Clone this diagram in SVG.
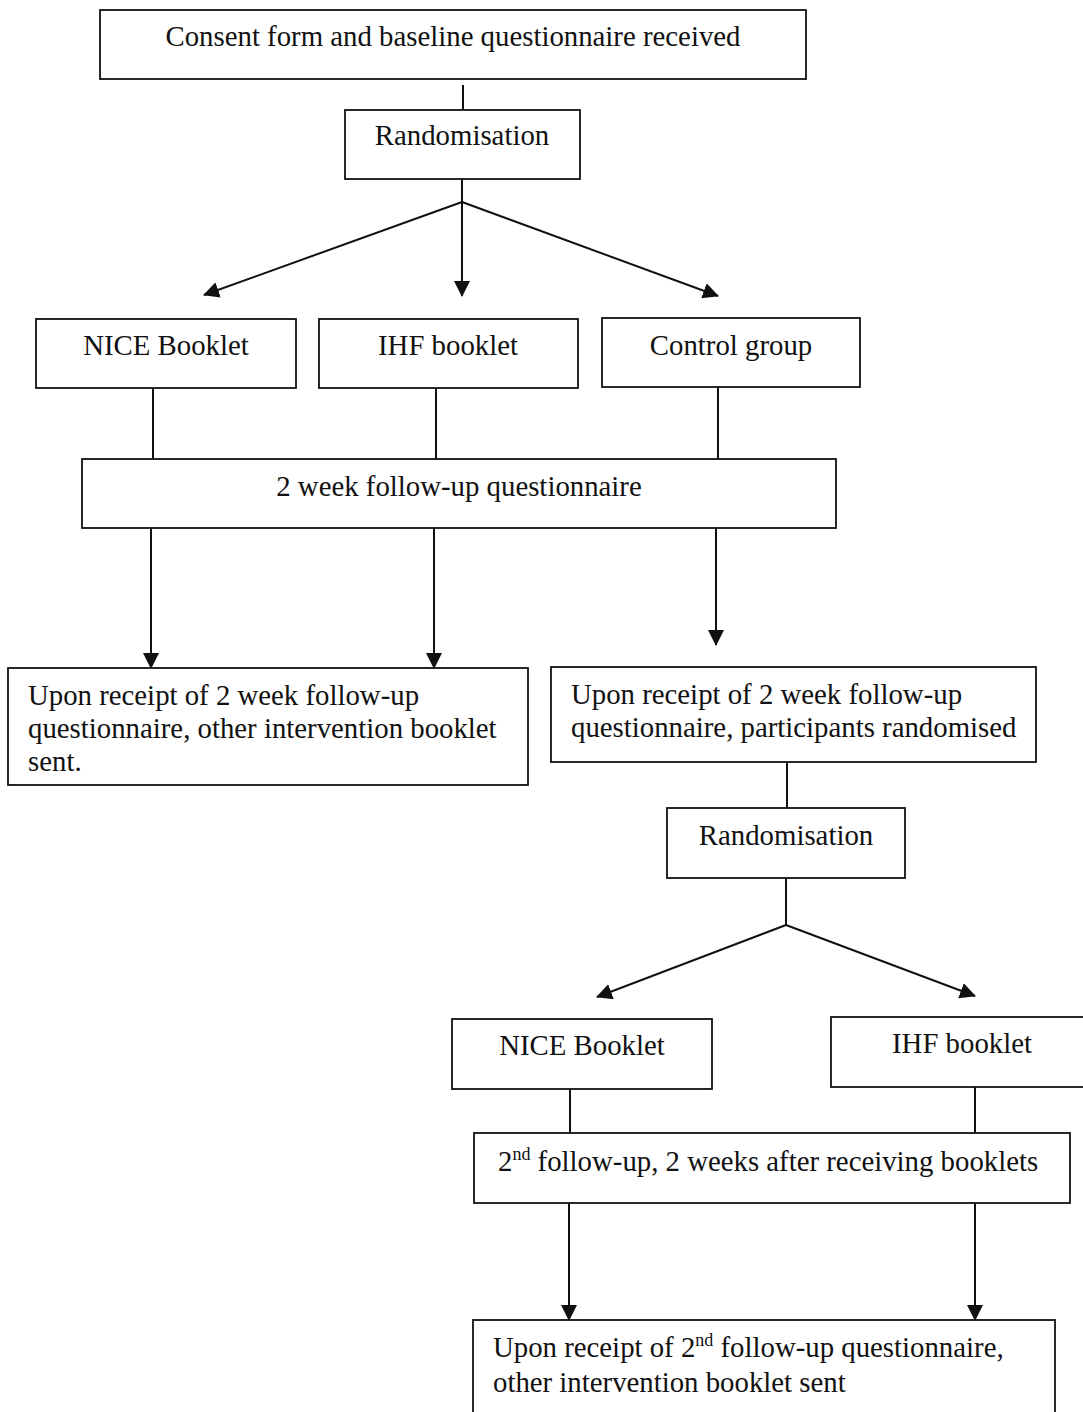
<svg xmlns="http://www.w3.org/2000/svg" width="1083" height="1412" viewBox="0 0 1083 1412">
<style>
.box{fill:#fff;stroke:#111;stroke-width:1.8}
.t{font-family:"Liberation Serif","Times New Roman",serif;font-size:28.8px;fill:#111}
.c{text-anchor:middle}
.sup{font-size:18px}
.ln{stroke:#111;stroke-width:2;fill:none}
.ar{stroke:#111;stroke-width:2;fill:none;marker-end:url(#ah)}
</style>
<defs>
<marker id="ah" markerUnits="userSpaceOnUse" markerWidth="16" markerHeight="16" viewBox="0 0 16 16" refX="15" refY="8" orient="auto">
<path d="M0,0 L16,8 L0,16 z" fill="#111"/>
</marker>
</defs>
<rect width="1083" height="1412" fill="#fff"/>
<g id="connectors">
<line class="ln" x1="463" y1="85" x2="463" y2="110"/>
<line class="ln" x1="462" y1="179" x2="462" y2="202"/>
<line class="ar" x1="462" y1="202" x2="204" y2="295"/>
<line class="ar" x1="462" y1="202" x2="462" y2="296"/>
<line class="ar" x1="462" y1="202" x2="718" y2="296"/>
<line class="ln" x1="153" y1="388" x2="153" y2="459"/>
<line class="ln" x1="436" y1="388" x2="436" y2="459"/>
<line class="ln" x1="718" y1="387" x2="718" y2="459"/>
<line class="ar" x1="151" y1="528" x2="151" y2="668"/>
<line class="ar" x1="434" y1="528" x2="434" y2="668"/>
<line class="ar" x1="716" y1="528" x2="716" y2="645"/>
<line class="ln" x1="787" y1="762" x2="787" y2="808"/>
<line class="ln" x1="786" y1="878" x2="786" y2="925"/>
<line class="ar" x1="786" y1="925" x2="597" y2="997"/>
<line class="ar" x1="786" y1="925" x2="975" y2="996"/>
<line class="ln" x1="570" y1="1089" x2="570" y2="1133"/>
<line class="ln" x1="975" y1="1087" x2="975" y2="1133"/>
<line class="ar" x1="569" y1="1203" x2="569" y2="1320"/>
<line class="ar" x1="975" y1="1203" x2="975" y2="1320"/>
</g>
<g id="n_consent">
<rect class="box" x="100" y="10" width="706" height="69"/>
<text class="t c" x="453" y="46">Consent form and baseline questionnaire received</text>
</g>
<g id="n_rand1">
<rect class="box" x="345" y="110" width="235" height="69"/>
<text class="t c" x="462" y="145">Randomisation</text>
</g>
<g id="n_nice1">
<rect class="box" x="36" y="319" width="260" height="69"/>
<text class="t c" x="166" y="355">NICE Booklet</text>
</g>
<g id="n_ihf1">
<rect class="box" x="319" y="319" width="259" height="69"/>
<text class="t c" x="448" y="355">IHF booklet</text>
</g>
<g id="n_control">
<rect class="box" x="602" y="318" width="258" height="69"/>
<text class="t c" x="731" y="355">Control group</text>
</g>
<g id="n_fu2wk">
<rect class="box" x="82" y="459" width="754" height="69"/>
<text class="t c" x="459" y="496">2 week follow-up questionnaire</text>
</g>
<g id="n_other1">
<rect class="box" x="8" y="668" width="520" height="117"/>
<text class="t" x="28" y="705">Upon receipt of 2 week follow-up</text>
<text class="t" x="28" y="738">questionnaire, other intervention booklet</text>
<text class="t" x="28" y="771">sent.</text>
</g>
<g id="n_rand_recv">
<rect class="box" x="551" y="667" width="485" height="95"/>
<text class="t" x="571" y="704">Upon receipt of 2 week follow-up</text>
<text class="t" x="571" y="737">questionnaire, participants randomised</text>
</g>
<g id="n_rand2">
<rect class="box" x="667" y="808" width="238" height="70"/>
<text class="t c" x="786" y="845">Randomisation</text>
</g>
<g id="n_nice2">
<rect class="box" x="452" y="1019" width="260" height="70"/>
<text class="t c" x="582" y="1055">NICE Booklet</text>
</g>
<g id="n_ihf2">
<rect class="box" x="831" y="1017" width="260" height="70"/>
<text class="t c" x="962" y="1053">IHF booklet</text>
</g>
<g id="n_fu2nd">
<rect class="box" x="474" y="1133" width="596" height="70"/>
<text class="t" x="498" y="1171">2<tspan class="sup" dy="-11">nd</tspan><tspan dy="11"> follow-up, 2 weeks after receiving booklets</tspan></text>
</g>
<g id="n_other2">
<rect class="box" x="473" y="1320" width="582" height="110"/>
<text class="t" x="493" y="1357">Upon receipt of 2<tspan class="sup" dy="-11">nd</tspan><tspan dy="11"> follow-up questionnaire,</tspan></text>
<text class="t" x="493" y="1392">other intervention booklet sent</text>
</g>
</svg>
